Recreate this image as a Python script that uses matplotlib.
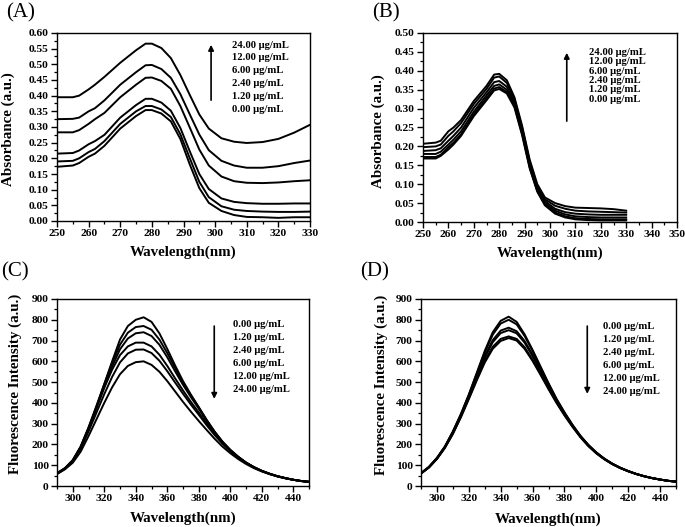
import numpy as np
import matplotlib
matplotlib.use('Agg')
import matplotlib.pyplot as plt
from matplotlib.ticker import MultipleLocator, FormatStrFormatter

plt.rcParams['font.family'] = ['Liberation Serif', 'DejaVu Serif']
plt.rcParams['font.weight'] = 'bold'

# ---- absorbance data (panels A, B) ----
wl_abs = [250, 255, 257, 260, 262, 265, 270, 275, 278, 280, 283, 286, 289,
          292, 295, 298, 302, 306, 310, 315, 320, 325, 330]

abs_a = {
    '0.00':  [.173, .177, .185, .205, .215, .240, .295, .335, .354, .354, .343, .318, .262,
              .180, .105, .058, .032, .019, .013, .012, .010, .012, .012],
    '1.20':  [.190, .192, .200, .220, .230, .255, .310, .350, .367, .367, .356, .332, .277,
              .200, .125, .076, .047, .036, .032, .030, .029, .029, .030],
    '2.40':  [.215, .217, .225, .245, .255, .275, .330, .370, .390, .390, .378, .352, .297,
              .222, .150, .102, .072, .061, .057, .055, .055, .056, .056],
    '6.00':  [.283, .283, .290, .310, .325, .345, .395, .435, .457, .458, .447, .422, .367,
              .298, .228, .177, .142, .127, .122, .121, .123, .127, .130],
    '12.00': [.325, .326, .330, .350, .360, .385, .435, .475, .497, .498, .485, .457, .405,
              .340, .276, .226, .192, .177, .170, .170, .175, .185, .193],
    '24.00': [.395, .395, .400, .420, .435, .460, .505, .545, .566, .566, .552, .520, .466,
              .402, .340, .295, .264, .253, .249, .252, .262, .282, .307],
}

abs_b = {
    '0.00':  [.168, .168, .175, .192, .205, .228, .280, .322, .348, .352, .340, .303, .230,
              .142, .080, .044, .022, .012, .007, .005, .004, .004, .004],
    '1.20':  [.172, .172, .178, .198, .210, .232, .285, .328, .353, .357, .344, .307, .234,
              .145, .082, .046, .025, .015, .010, .008, .007, .007, .007],
    '2.40':  [.180, .180, .186, .205, .218, .240, .292, .335, .360, .364, .350, .312, .238,
              .148, .085, .050, .030, .020, .015, .013, .012, .012, .012],
    '6.00':  [.188, .190, .195, .215, .228, .250, .302, .343, .370, .373, .358, .318, .243,
              .153, .090, .055, .035, .026, .022, .020, .019, .019, .019],
    '12.00': [.198, .200, .205, .228, .240, .262, .312, .352, .382, .385, .368, .325, .250,
              .160, .095, .060, .043, .035, .030, .028, .027, .026, .025],
    '24.00': [.207, .210, .215, .240, .250, .270, .320, .360, .390, .392, .375, .330, .255,
              .165, .100, .065, .050, .042, .038, .037, .036, .034, .030],
}

# ---- fluorescence data (panels C, D) ----
wl_fl = [290, 295, 300, 305, 310, 315, 320, 325, 330, 335, 340, 345, 350, 355, 360, 365,
         370, 375, 380, 385, 390, 395, 400, 405, 410, 415, 420, 425, 430, 435, 440, 445, 450]

fl_c = {
    '0.00':  [62, 85, 122, 185, 275, 380, 490, 600, 705, 770, 800, 812, 790, 735, 660, 580,
              505, 440, 380, 318, 262, 213, 172, 140, 112, 90, 72, 58, 46, 37, 30, 24, 20],
    '1.20':  [62, 86, 125, 190, 282, 385, 490, 592, 680, 738, 765, 770, 752, 705, 640, 568,
              498, 436, 378, 318, 262, 214, 174, 141, 113, 91, 73, 59, 47, 38, 30, 24, 20],
    '2.40':  [60, 84, 122, 186, 276, 376, 478, 575, 658, 710, 735, 740, 722, 680, 620, 552,
              487, 428, 372, 314, 260, 213, 174, 141, 113, 91, 73, 59, 47, 38, 30, 24, 20],
    '6.00':  [60, 84, 123, 188, 278, 375, 472, 560, 630, 672, 690, 690, 672, 632, 578, 518,
              460, 405, 354, 302, 252, 208, 171, 139, 112, 90, 73, 59, 47, 38, 30, 24, 20],
    '12.00': [58, 82, 118, 178, 262, 352, 442, 525, 595, 638, 656, 657, 640, 603, 553, 498,
              444, 392, 343, 293, 246, 204, 168, 137, 111, 90, 72, 58, 47, 38, 30, 24, 20],
    '24.00': [58, 80, 112, 165, 240, 320, 400, 475, 538, 578, 596, 600, 583, 550, 505, 455,
              405, 358, 313, 270, 228, 190, 158, 130, 106, 86, 70, 57, 46, 37, 30, 24, 20],
}

fl_d = {
    '0.00':  [62, 92, 135, 190, 262, 345, 440, 545, 650, 740, 795, 815, 790, 730, 655, 575,
              495, 420, 355, 295, 242, 198, 162, 132, 108, 88, 72, 58, 47, 38, 31, 25, 21],
    '1.20':  [62, 92, 135, 190, 262, 345, 438, 540, 642, 728, 782, 800, 778, 722, 650, 570,
              492, 418, 353, 294, 241, 197, 161, 131, 107, 88, 72, 58, 47, 38, 31, 25, 21],
    '2.40':  [61, 91, 133, 188, 258, 340, 432, 530, 625, 702, 748, 762, 745, 698, 632, 558,
              484, 413, 350, 292, 240, 196, 160, 131, 107, 87, 71, 58, 47, 38, 31, 25, 21],
    '6.00':  [61, 90, 132, 186, 255, 337, 428, 525, 618, 692, 736, 750, 735, 690, 625, 553,
              480, 410, 347, 290, 238, 195, 159, 130, 106, 87, 71, 58, 47, 38, 31, 25, 21],
    '12.00': [60, 90, 131, 185, 253, 333, 422, 515, 603, 670, 708, 720, 708, 668, 608, 540,
              470, 403, 342, 287, 236, 193, 158, 129, 106, 87, 71, 58, 47, 38, 31, 25, 21],
    '24.00': [60, 89, 130, 183, 250, 330, 418, 508, 594, 660, 698, 712, 700, 660, 602, 535,
              466, 400, 340, 285, 235, 192, 157, 129, 105, 86, 71, 58, 47, 38, 31, 25, 21],
}

conc_up = ['24.00', '12.00', '6.00', '2.40', '1.20', '0.00']
conc_down = ['0.00', '1.20', '2.40', '6.00', '12.00', '24.00']

fig = plt.figure(figsize=(6.85, 5.27), dpi=100)
W, H = 685, 527


def make_ax(left, top, right, bottom):
    return fig.add_axes([left / W, (H - bottom) / H, (right - left) / W, (bottom - top) / H])


axA = make_ax(57, 33, 310, 221)
axB = make_ax(423, 33, 677, 222)
axC = make_ax(57, 299, 309, 486)
axD = make_ax(421, 299, 676, 486)


def style(ax, xlim, xmaj, xmin, ylim, ymaj, ymin, yfmt, ylabel, xlab_y, ylab_x, ylab_y):
    ax.set_xlim(*xlim)
    ax.set_ylim(*ylim)
    ax.xaxis.set_major_locator(MultipleLocator(xmaj))
    ax.xaxis.set_minor_locator(MultipleLocator(xmin))
    ax.yaxis.set_major_locator(MultipleLocator(ymaj))
    ax.yaxis.set_minor_locator(MultipleLocator(ymin))
    ax.yaxis.set_major_formatter(FormatStrFormatter(yfmt))
    ax.tick_params(which='both', direction='out', top=False, right=False, labelsize=8.2, pad=2)
    ax.tick_params(which='major', length=4, width=1.0)
    ax.tick_params(which='minor', length=2, width=0.9)
    for t in ax.get_xticklabels() + ax.get_yticklabels():
        t.set_fontweight('bold')
    for s in ax.spines.values():
        s.set_linewidth(1.0)
    ax.set_xlabel('Wavelength(nm)', fontsize=10.8, fontweight='bold')
    ax.xaxis.set_label_coords(0.5, xlab_y)
    ax.set_ylabel(ylabel, fontsize=10.8, fontweight='bold')
    ax.yaxis.set_label_coords(ylab_x, ylab_y)


def legend_block(ax, labels, ax_x, tail, tip, tx, ty0, step):
    ax.annotate('', xy=(ax_x, tip), xytext=(ax_x, tail), xycoords='axes fraction',
                arrowprops=dict(arrowstyle='-|>', color='black', lw=1.2, mutation_scale=8))
    for i, c in enumerate(labels):
        ax.text(tx, ty0 - i * step, c + ' \u00b5g/mL', transform=ax.transAxes,
                fontsize=7.7, fontweight='bold', va='center', ha='left')


for c in conc_up:
    axA.plot(wl_abs, abs_a[c], color='black', lw=1.4)
    axB.plot(wl_abs, abs_b[c], color='black', lw=1.4)
for c in conc_down:
    axC.plot(wl_fl, fl_c[c], color='black', lw=1.4)
    axD.plot(wl_fl, fl_d[c], color='black', lw=1.4)

style(axA, (250, 330), 10, 5, (0, 0.6), 0.05, 0.025, '%.2f', 'Absorbance (a.u.)', -0.13, -0.165, 0.49)
style(axB, (250, 350), 10, 5, (0, 0.5), 0.05, 0.025, '%.2f', 'Absorbance (a.u.)', -0.128, -0.148, 0.48)
style(axC, (290, 450), 20, 10, (0, 900), 100, 50, '%d', 'Fluorescence Intensity (a.u.)', -0.134, -0.139, 0.545)
style(axD, (290, 450), 20, 10, (0, 900), 100, 50, '%d', 'Fluorescence Intensity (a.u.)', -0.14, -0.129, 0.54)

legend_block(axA, conc_up, 0.609, 0.628, 0.952, 0.692, 0.936, 0.0686)
legend_block(axB, conc_up, 0.566, 0.519, 0.910, 0.655, 0.896, 0.0492)
legend_block(axC, conc_down, 0.624, 0.870, 0.451, 0.700, 0.861, 0.0695)
legend_block(axD, conc_down, 0.652, 0.870, 0.478, 0.715, 0.852, 0.0695)

for lab, x, y in [('(A)', 6, 13), ('(B)', 372, 13), ('(C)', 1, 272), ('(D)', 360, 272)]:
    fig.text(x / W, 1 - y / H, lab, fontsize=15, fontweight='normal', ha='left', va='center')

fig.savefig('out.png', dpi=100)
